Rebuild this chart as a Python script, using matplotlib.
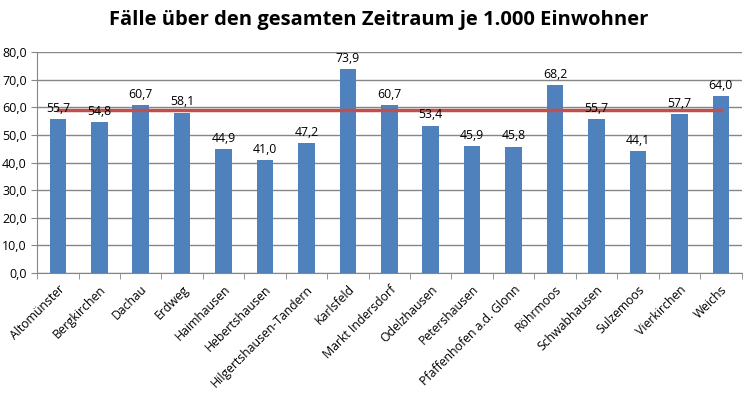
import matplotlib
matplotlib.use("Agg")
from matplotlib import pyplot as plt

# Gemeinden und Werte (Fälle je 1.000 Einwohner)
gemeinden = ["Altomünster", "Bergkirchen", "Dachau", "Erdweg", "Haimhausen",
             "Hebertshausen", "Hilgertshausen-Tandern", "Karlsfeld",
             "Markt Indersdorf", "Odelzhausen", "Petershausen",
             "Pfaffenhofen a.d. Glonn", "Röhrmoos", "Schwabhausen",
             "Sulzemoos", "Vierkirchen", "Weichs"]
werte = [55.7, 54.8, 60.7, 58.1, 44.9, 41.0, 47.2, 73.9, 60.7, 53.4, 45.9,
         45.8, 68.2, 55.7, 44.1, 57.7, 64.0]
landkreis = 59.0
y_ticks = [0, 10, 20, 30, 40, 50, 60, 70, 80]

plt.rcParams['font.family'] = ['Open Sans', 'DejaVu Sans']

fig = plt.figure(figsize=(7.43, 3.98), dpi=100)
ax = fig.add_axes([0.05, 0.314, 0.948, 0.555])

x = list(range(len(gemeinden)))
ax.bar(x, werte, width=0.4, color="#4F81BD", zorder=2)
for xi, v in zip(x, werte):
    ax.text(xi, v + 1.5, f"{v:.1f}".replace(".", ","), ha="center", va="bottom",
            fontsize=8.8, zorder=4)
ax.plot([x[0], x[-1]], [landkreis, landkreis], color="#C0504D", lw=2.5, zorder=3)

ax.set_ylim(0, 80)
ax.set_xlim(-0.5, len(gemeinden) - 0.5)
ax.set_yticks(y_ticks)
ax.set_yticklabels([f"{t:.1f}".replace(".", ",") for t in y_ticks], fontsize=9)
ax.yaxis.grid(True, color="#868686", lw=1)
ax.set_axisbelow(True)

ax.set_xticks(x)
ax.set_xticklabels(gemeinden, rotation=45, ha="right", rotation_mode="anchor", fontsize=8.8)
ax.tick_params(axis="x", length=0, pad=7)
ax.set_xticks([i + 0.5 for i in range(-1, len(gemeinden))], minor=True)
ax.tick_params(axis="x", which="minor", length=4, color="#868686")
ax.tick_params(axis="y", length=4, color="#868686")

for s in ["top", "right"]:
    ax.spines[s].set_visible(False)
ax.spines["left"].set_color("#868686")
ax.spines["bottom"].set_color("#868686")

fig.suptitle("Fälle über den gesamten Zeitraum je 1.000 Einwohner", fontsize=14.5,
             fontweight="bold", x=0.51, y=0.975)

fig.savefig("out.png", dpi=100)
